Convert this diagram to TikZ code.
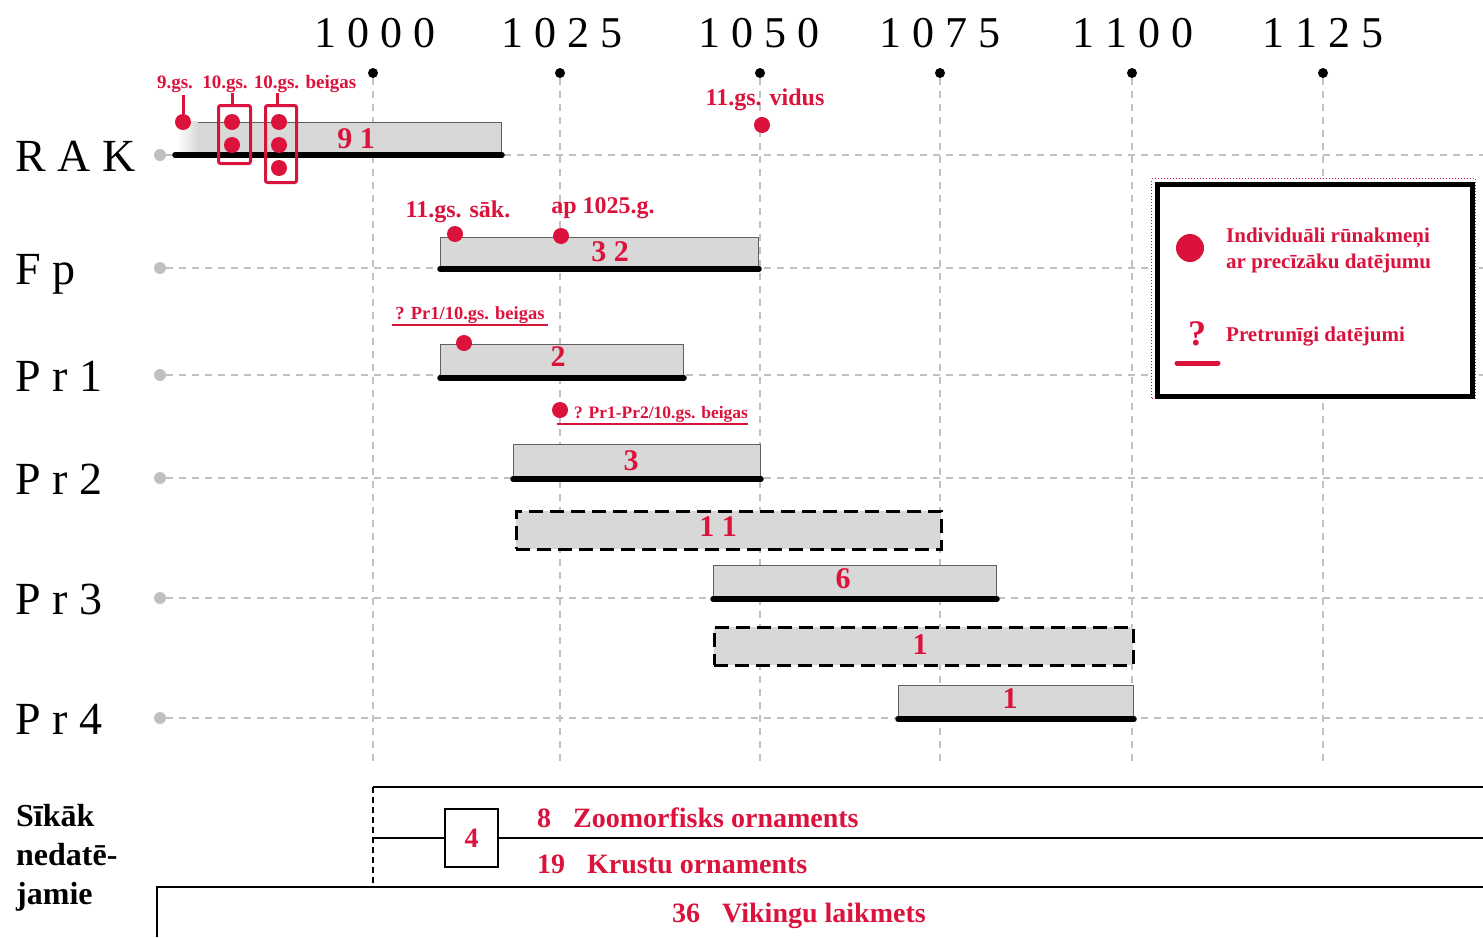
\documentclass[tikz,border=0pt]{standalone}
\usepackage{fontspec}
\setmainfont{Liberation Serif}
\definecolor{runred}{RGB}{218,18,60}
\definecolor{barfill}{RGB}{216,216,216}
\definecolor{gridgray}{RGB}{192,192,192}
\begin{document}
\begin{tikzpicture}[x=1pt,y=-1pt,
  yearlab/.style={font=\fontsize{44}{44}\selectfont, inner sep=0, anchor=base},
  rowlab/.style={font=\fontsize{46}{46}\selectfont, inner sep=0, anchor=base west},
  gridline/.style={draw=gridgray, line width=1.6pt, dash pattern=on 7pt off 6pt},
  tickdot/.style={circle, fill=black, inner sep=0, minimum size=10pt},
  rowdot/.style={circle, fill=gridgray, inner sep=0, minimum size=12pt},
  barbox/.style={draw=gray!75!black, line width=1pt, fill=barfill, inner sep=0, anchor=north west},
  dashbox/.style={draw=black, line width=2.6pt, dash pattern=on 14pt off 7pt, fill=barfill, inner sep=0, anchor=north west},
  barbase/.style={draw=black, line width=5.5pt, line cap=round},
  numlab/.style={text=runred, font=\bfseries\fontsize{30}{30}\selectfont, inner sep=0},
  redtxt/.style={text=runred, font=\bfseries\fontsize{19}{19}\selectfont, inner sep=0, anchor=base},
  midred/.style={text=runred, font=\bfseries\fontsize{24}{24}\selectfont, inner sep=0, anchor=base},
  legtxt/.style={text=runred, font=\bfseries\fontsize{21}{21}\selectfont, inner sep=0, anchor=base west},
  ornlab/.style={text=runred, font=\bfseries\fontsize{28}{28}\selectfont, inner sep=0, anchor=base west},
  sidelab/.style={font=\bfseries\fontsize{32}{32}\selectfont, inner sep=0, anchor=base west},
  rdot/.style={circle, fill=runred, inner sep=0, minimum size=16pt},
  redbox/.style={draw=runred, line width=3pt, rounded corners=2pt, inner sep=0, anchor=north west},
  redtick/.style={draw=runred, line width=3pt},
  redul/.style={draw=runred, line width=2.2pt},
  frame/.style={draw=black, line width=1.6pt},
]
\useasboundingbox (0,0) rectangle (1483,937);

% ---- year axis ----
\foreach \yr/\xx in {1000/373,1025/560,1050/760,1075/940,1100/1132,1125/1323}{
  \node[tickdot] (t\yr) at (\xx,73) {};
  \coordinate (g\yr) at (\xx,765);
}
\foreach \yr in {1000,1025,1050,1075,1100,1125}{
  \draw[gridline] (t\yr) -- (g\yr);
}
\node[yearlab] (y1000) at (375,47) {1 0 0 0};
\node[yearlab] (y1025) at (562,47) {1 0 2 5};
\node[yearlab] (y1050) at (759,47) {1 0 5 0};
\node[yearlab] (y1075) at (940,47) {1 0 7 5};
\node[yearlab] (y1100) at (1133,47) {1 1 0 0};
\node[yearlab] (y1125) at (1323,47) {1 1 2 5};

% ---- rows ----
\foreach \nm/\yy in {RAK/155,Fp/268,PrA/375,PrB/478,PrC/598,PrD/718}{
  \node[rowdot] (d\nm) at (160,\yy) {};
  \coordinate (e\nm) at (1483,\yy);
  \draw[gridline] (d\nm) -- (e\nm);
}
\node[rowlab] (lRAK) at (15,171.5) {R A K};
\node[rowlab] (lFp)  at (15,284.5) {F p};
\node[rowlab] (lPrA) at (15,391.5) {P r 1};
\node[rowlab] (lPrB) at (15,494.5) {P r 2};
\node[rowlab] (lPrC) at (15,614.5) {P r 3};
\node[rowlab] (lPrD) at (15,734.5) {P r 4};

% ---- bars ----
\node[barbox, minimum width=323pt, minimum height=32pt] (bRAK) at (178,122) {};
\node[barbox, minimum width=318pt, minimum height=31pt] (bFp) at (440,237) {};
\node[barbox, minimum width=243pt, minimum height=33pt] (bPrA) at (440,344) {};
\node[barbox, minimum width=247pt, minimum height=34pt] (bPrB) at (513,444) {};
\node[dashbox, minimum width=425pt, minimum height=38pt] (bDashA) at (515,510) {};
\node[barbox, minimum width=283pt, minimum height=33pt] (bPrC) at (713,565) {};
\node[dashbox, minimum width=419pt, minimum height=38pt] (bDashB) at (713,626) {};
\node[barbox, minimum width=235pt, minimum height=33pt] (bPrD) at (898,685) {};
\shade[left color=white, right color=barfill] (177,121) rectangle (198,152);

\draw[barbase] ([xshift=-3pt]bRAK.south west) -- (bRAK.south east);
\foreach \b in {bFp,bPrA,bPrB,bPrC,bPrD}{
  \draw[barbase] (\b.south west) -- (\b.south east);
}

\node[numlab] (nRAK) at (356,139) {9 1};
\node[numlab] (nFp) at (610,252) {3 2};
\node[numlab] (nPrA) at (558,357) {2};
\node[numlab] (nPrB) at (631,461) {3};
\node[numlab] (nDashA) at (718,527) {1 1};
\node[numlab] (nPrC) at (843,579) {6};
\node[numlab] (nDashB) at (920,645) {1};
\node[numlab] (nPrD) at (1010,699) {1};

% ---- RAK annotations ----
\node[redbox, minimum width=32pt, minimum height=58pt] (rbA) at (217,104) {};
\node[redbox, minimum width=31pt, minimum height=77pt] (rbB) at (264,104) {};
\node[redtxt] (a9) at (175,88) {9.gs.};
\node[redtxt] (a10) at (225,88) {10.gs.};
\node[redtxt] (a10b) at (305,88) {10.gs. beigas};
\coordinate (k1) at (183,95);
\coordinate (k2) at (232,93);
\coordinate (k3) at (277,93);
\node[rdot] (r1) at (183,122) {};
\node[rdot] (r2) at (232,122) {};
\node[rdot] (r3) at (232,145) {};
\node[rdot] (r4) at (279,122) {};
\node[rdot] (r5) at (279,145) {};
\node[rdot] (r6) at (279,168) {};
\draw[redtick] (k1) -- (r1);
\draw[redtick] (k2) -- (rbA.north -| k2);
\draw[redtick] (k3) -- (rbB.north -| k3);

\node[midred] (avid) at (765,105) {11.gs. vidus};
\node[rdot] (r7) at (762,125) {};

% ---- Fp annotations ----
\node[midred] (asak) at (458,217) {11.gs. sāk.};
\node[midred] (aap) at (603,213) {ap 1025.g.};
\node[rdot] (r8) at (455,234) {};
\node[rdot] (r9) at (561,236) {};

% ---- Pr1 / Pr2 annotations ----
\node[redtxt, font=\bfseries\fontsize{18.5}{18.5}\selectfont] (apr1) at (470,319) {? Pr1/10.gs. beigas};
\coordinate (u1a) at (392,325);
\coordinate (u1b) at (548,325);
\draw[redul] (u1a) -- (u1b);
\node[rdot] (r10) at (464,343) {};

\node[redtxt, font=\bfseries\fontsize{17.5}{17.5}\selectfont] (apr2) at (661,418) {? Pr1-Pr2/10.gs. beigas};
\coordinate (u2a) at (557,424);
\coordinate (u2b) at (748,424);
\draw[redul, line width=2.8pt] (u2a) -- (u2b);
\node[rdot] (r11) at (560,410) {};

% ---- legend ----
\node[draw=runred, dotted, fill=white, line width=1pt, minimum width=324pt, minimum height=220pt, inner sep=0, anchor=north west] (legout) at (1151,178) {};
\node[draw=black, fill=white, line width=4.5pt, minimum width=315pt, minimum height=212pt, inner sep=0, anchor=north west] (legend) at (1155,182) {};
\node[circle, fill=runred, inner sep=0, minimum size=28pt] (legdot) at (1190,248) {};
\node[legtxt] (leg1) at (1226,242) {Individuāli rūnakmeņi};
\node[legtxt] (leg2) at (1226,268) {ar precīzāku datējumu};
\node[text=runred, font=\bfseries\fontsize{36}{36}\selectfont, inner sep=0, anchor=base] (legq) at (1197,345) {?};
\coordinate (lqa) at (1177,363);
\coordinate (lqb) at (1218,363);
\draw[draw=runred, line width=5pt, line cap=round] (lqa) -- (lqb);
\node[legtxt] (leg3) at (1226,341) {Pretrunīgi datējumi};

% ---- bottom section ----
\node[sidelab] (s1) at (16,826) {Sīkāk};
\node[sidelab] (s2) at (16,865) {nedatē-};
\node[sidelab] (s3) at (16,904) {jamie};

\coordinate (bt1) at (373,787);
\coordinate (bt2) at (1483,787);
\coordinate (bb0) at (157,937);
\coordinate (bb1) at (157,887);
\coordinate (bb2) at (373,887);
\coordinate (bb3) at (1483,887);
\node[frame, minimum width=53pt, minimum height=58pt, inner sep=0, text=runred, font=\bfseries\fontsize{28}{28}\selectfont] (box4) at (471.5,838) {4};
\coordinate (bm1) at (373,838);
\coordinate (bm2) at (1483,838);
\draw[frame] (bt1) -- (bt2);
\draw[frame, dash pattern=on 6pt off 4pt] (bt1) -- (bb2);
\draw[frame] (bm1) -- (box4.west);
\draw[frame] (box4.east) -- (bm2);
\draw[frame] (bb0) -- (bb1) -- (bb3);

\node[ornlab] (o1) at (537,827) {8\hspace{22pt}Zoomorfisks ornaments};
\node[ornlab] (o2) at (537,873) {19\hspace{22pt}Krustu ornaments};
\node[ornlab] (o3) at (672,922) {36\hspace{22pt}Vikingu laikmets};
\end{tikzpicture}
\end{document}
